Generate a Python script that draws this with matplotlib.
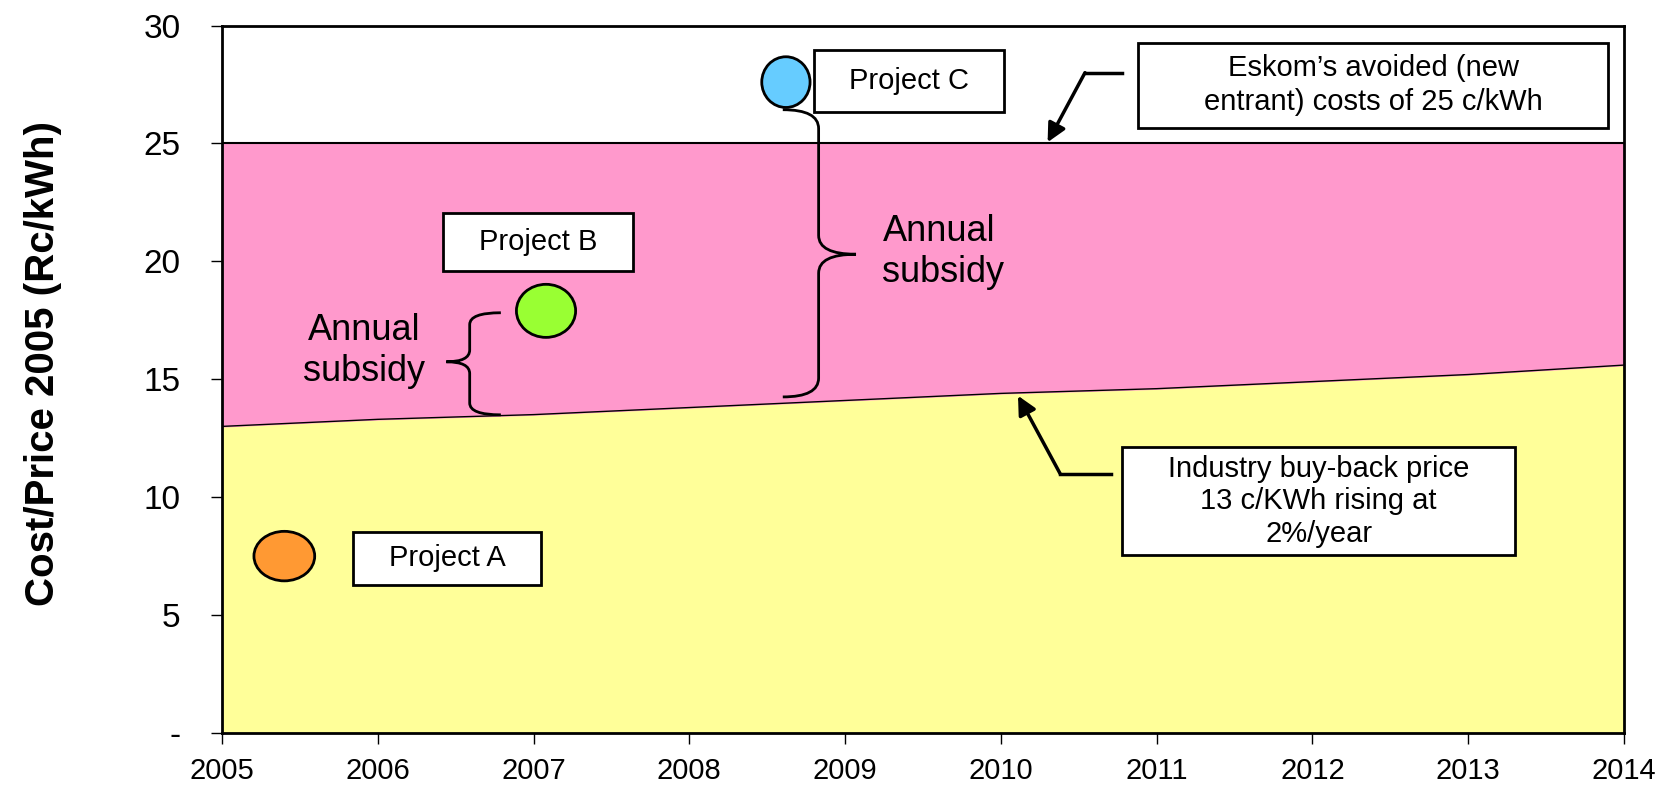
import matplotlib
matplotlib.use('Agg')
import matplotlib.pyplot as plt
from matplotlib.patches import Ellipse, Rectangle, PathPatch
from matplotlib.path import Path

# 数据
years = [2005, 2006, 2007, 2008, 2009, 2010, 2011, 2012, 2013, 2014]
avoided_cost = [25, 25, 25, 25, 25, 25, 25, 25, 25, 25]
buyback_price = [13.0, 13.3, 13.5, 13.8, 14.1, 14.4, 14.6, 14.9, 15.2, 15.6]

project_names = ['Project A', 'Project B', 'Project C']
project_year = [2005.40, 2007.08, 2008.62]
project_cost = [7.5, 17.9, 27.6]
project_colors = ['#FF9933', '#99FF33', '#66CCFF']

ytick_values = [0, 5, 10, 15, 20, 25, 30]
ytick_labels = ['-', '5', '10', '15', '20', '25', '30']

plt.rcParams['font.family'] = ['Liberation Sans', 'DejaVu Sans']


def draw_box(ax, x0, x1, y0, y1, text, size=21, linespacing=1.2):
    """白底黑框的文字框"""
    ax.add_patch(Rectangle((x0, y0), x1 - x0, y1 - y0, facecolor='white',
                           edgecolor='black', linewidth=2, zorder=6))
    ax.text((x0 + x1) / 2, (y0 + y1) / 2, text, ha='center', va='center',
            fontsize=size, linespacing=linespacing, zorder=7)


def draw_brace(ax, xv, xe, xt, ytop, ybot, ytip, dy):
    """画大括号: xv 竖线, xe 两端, xt 尖端"""
    verts = [(xe, ytop), (xv, ytop), (xv, ytop - dy),
             (xv, ytip + dy),
             (xv, ytip), (xt, ytip),
             (xv, ytip), (xv, ytip - dy),
             (xv, ybot + dy),
             (xv, ybot), (xe, ybot)]
    codes = [Path.MOVETO, Path.CURVE3, Path.CURVE3,
             Path.LINETO,
             Path.CURVE3, Path.CURVE3,
             Path.CURVE3, Path.CURVE3,
             Path.LINETO,
             Path.CURVE3, Path.CURVE3]
    ax.add_patch(PathPatch(Path(verts, codes), facecolor='none',
                           edgecolor='black', linewidth=2, zorder=5))


fig = plt.figure(figsize=(16.68, 7.90), dpi=100)
ax = fig.add_axes([0.1331, 0.0722, 0.8405, 0.8955])

# 区域填充
ax.fill_between(years, 0, buyback_price, color='#FFFF99', zorder=1)
ax.fill_between(years, buyback_price, avoided_cost, color='#FF99CC', zorder=1)
ax.plot(years, buyback_price, color='black', linewidth=1, zorder=2)
ax.plot(years, avoided_cost, color='black', linewidth=1.5, zorder=2)

# 项目点
blob_w = [0.39, 0.38, 0.31]
blob_h = [2.1, 2.25, 2.15]
for x, y, c, w, h in zip(project_year, project_cost, project_colors, blob_w, blob_h):
    ax.add_patch(Ellipse((x, y), w, h, facecolor=c, edgecolor='black',
                         linewidth=2, zorder=5))

# 项目文字框
draw_box(ax, 2005.84, 2007.05, 6.27, 8.53, project_names[0])
draw_box(ax, 2006.42, 2007.64, 19.58, 22.06, project_names[1])
draw_box(ax, 2008.80, 2010.02, 26.34, 28.96, project_names[2])

# 说明框
draw_box(ax, 2010.88, 2013.90, 25.67, 29.27,
         'Eskom\u2019s avoided (new\nentrant) costs of 25 c/kWh', linespacing=1.3)
draw_box(ax, 2010.78, 2013.30, 7.53, 12.13,
         'Industry buy-back price\n13 c/KWh rising at\n2%/year', linespacing=1.2)

# 箭头
ax.plot([2010.78, 2010.54], [28.0, 28.0], color='black', linewidth=2.5, zorder=5)
ax.annotate('', xy=(2010.30, 25.05), xytext=(2010.54, 28.0),
            arrowprops=dict(arrowstyle='-|>', color='black', linewidth=2.5,
                            mutation_scale=28, shrinkA=0, shrinkB=0), zorder=5)
ax.plot([2010.71, 2010.38], [11.0, 11.0], color='black', linewidth=2.5, zorder=5)
ax.annotate('', xy=(2010.11, 14.3), xytext=(2010.38, 11.0),
            arrowprops=dict(arrowstyle='-|>', color='black', linewidth=2.5,
                            mutation_scale=28, shrinkA=0, shrinkB=0), zorder=5)

# 大括号
draw_brace(ax, 2006.59, 2006.79, 2006.44, 17.82, 13.49, 15.74, 0.5)
draw_brace(ax, 2008.83, 2008.60, 2009.07, 26.43, 14.25, 20.30, 0.8)

ax.text(2005.91, 16.2, 'Annual\nsubsidy', ha='center', va='center',
        fontsize=26, linespacing=1.2, zorder=5)
ax.text(2009.24, 20.4, 'Annual\nsubsidy', ha='left', va='center',
        fontsize=26, linespacing=1.2, zorder=5)

# 坐标轴
ax.set_xlim(2005, 2014)
ax.set_ylim(0, 30)
ax.set_xticks(years)
ax.set_xticklabels([str(y) for y in years], fontsize=21)
ax.set_yticks(ytick_values)
ax.set_yticklabels(ytick_labels, fontsize=24)
ax.tick_params(axis='x', length=8, width=1, pad=9)
ax.tick_params(axis='y', length=8, width=1, pad=22)
for s in ax.spines.values():
    s.set_linewidth(2)
    s.set_zorder(8)

fig.text(0.026, 0.54, 'Cost/Price 2005 (Rc/kWh)', rotation=90, ha='center',
         va='center', fontsize=29, fontweight='bold')

fig.savefig('out.png', dpi=100)
